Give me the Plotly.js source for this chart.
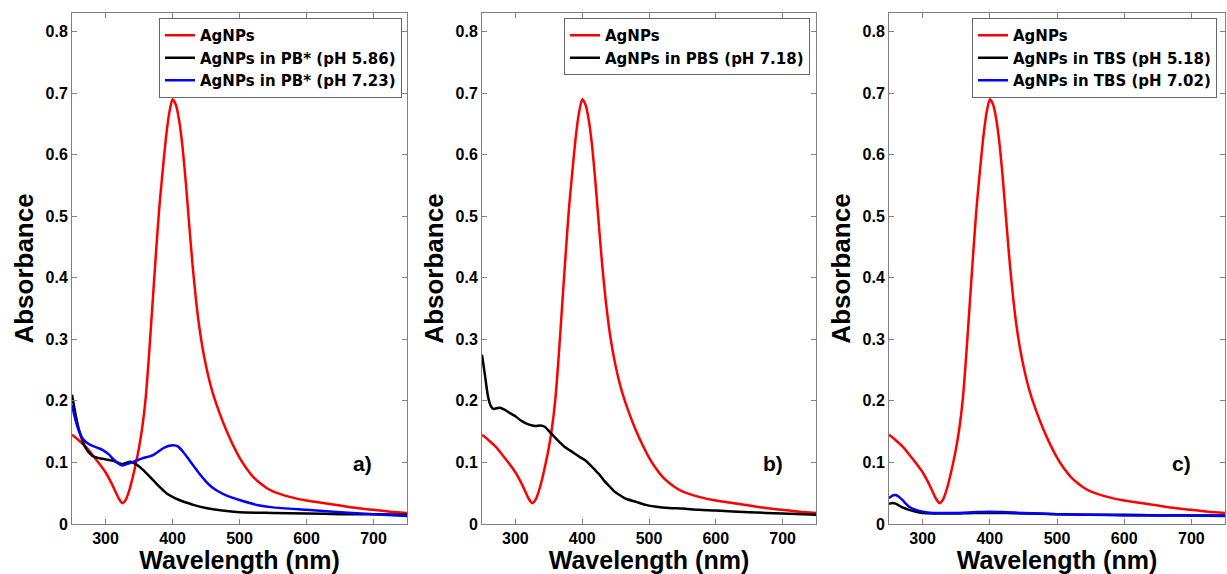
<!DOCTYPE html>
<html>
<head>
<meta charset="utf-8">
<script src="https://cdn.plot.ly/plotly-3.0.1.min.js"></script>
<style>
html,body{margin:0;padding:0;background:#fff;}
#chart{width:1227px;height:574px;}
</style>
</head>
<body>
<div id="chart"></div>
<script>
// ---- Data ----
// AgNPs (same reference spectrum in every panel)
const agWl = [250,260,270,280,290,300,310,320,325,330,335,340,345,350,355,360,365,370,375,380,385,390,395,400,405,410,415,420,425,430,435,440,445,450,455,460,470,480,490,500,510,520,530,540,550,560,575,600,625,650,675,700,725,750];
const agAbs = [0.145,0.136,0.126,0.113,0.099,0.084,0.064,0.041,0.034,0.039,0.053,0.073,0.097,0.124,0.158,0.205,0.275,0.355,0.435,0.510,0.570,0.625,0.667,0.690,0.681,0.655,0.612,0.553,0.485,0.420,0.365,0.320,0.285,0.257,0.233,0.213,0.181,0.153,0.129,0.108,0.091,0.077,0.067,0.059,0.053,0.049,0.044,0.038,0.034,0.030,0.026,0.023,0.020,0.018];

// Panel a: AgNPs in PB* (pH 5.86) and (pH 7.23)
const pb586Wl = [250,255,260,265,270,280,290,300,310,320,325,330,337,347,356,366,380,391,400,410,420,431,450,481,500,550,600,650,700,750];
const pb586Abs = [0.210,0.180,0.155,0.137,0.124,0.111,0.107,0.105,0.103,0.099,0.097,0.099,0.101,0.096,0.088,0.077,0.061,0.050,0.044,0.039,0.035,0.031,0.026,0.021,0.019,0.018,0.017,0.016,0.016,0.015];
const pb723Wl = [250,255,260,267,275,281,290,296,305,311,318,325,331,337,346,356,371,386,395,401,408,416,425,431,440,450,460,470,481,500,526,550,600,650,700,750];
const pb723Abs = [0.193,0.170,0.152,0.137,0.130,0.127,0.123,0.120,0.113,0.106,0.099,0.095,0.097,0.099,0.103,0.107,0.112,0.123,0.127,0.128,0.126,0.117,0.104,0.095,0.082,0.069,0.059,0.052,0.046,0.039,0.031,0.027,0.023,0.019,0.016,0.013];

// Panel b: AgNPs in PBS (pH 7.18)
const pbsWl = [250,254,259,263,267,272,277,285,292,300,307,315,322,330,337,344,351,358,366,373,381,388,396,404,411,418,426,433,441,448,456,465,481,495,511,530,550,575,600,650,700,750];
const pbsAbs = [0.275,0.245,0.207,0.192,0.187,0.188,0.189,0.185,0.180,0.175,0.169,0.164,0.161,0.159,0.160,0.158,0.150,0.142,0.133,0.126,0.120,0.115,0.109,0.104,0.097,0.089,0.080,0.070,0.061,0.053,0.047,0.041,0.036,0.031,0.028,0.026,0.025,0.023,0.022,0.019,0.017,0.015];

// Panel c: AgNPs in TBS (pH 5.18) and (pH 7.02)
const tbs518Wl = [250,255,260,265,270,280,290,300,315,330,350,375,400,425,450,500,550,600,650,700,750];
const tbs518Abs = [0.033,0.034,0.033,0.030,0.027,0.023,0.020,0.018,0.017,0.017,0.017,0.018,0.018,0.018,0.017,0.016,0.015,0.015,0.014,0.014,0.014];
const tbs702Wl = [250,255,260,265,270,275,280,290,300,315,330,350,375,400,425,450,500,550,600,650,700,750];
const tbs702Abs = [0.042,0.046,0.047,0.044,0.039,0.033,0.028,0.023,0.020,0.018,0.018,0.018,0.019,0.020,0.019,0.018,0.016,0.015,0.014,0.014,0.014,0.013];

const legendNames = {
  ag: "AgNPs",
  pb586: "AgNPs in PB* (pH 5.86)",
  pb723: "AgNPs in PB* (pH 7.23)",
  pbs: "AgNPs in PBS (pH 7.18)",
  tbs518: "AgNPs in TBS (pH 5.18)",
  tbs702: "AgNPs in TBS (pH 7.02)"
};
const panelLabels = ["a)", "b)", "c)"];
const xTicks = [300,400,500,600,700];
const yTicks = [0,0.1,0.2,0.3,0.4,0.5,0.6,0.7,0.8];
const yTickText = ["0","0.1","0.2","0.3","0.4","0.5","0.6","0.7","0.8"];

// ---- Styling ----
const FONT = "Liberation Sans, Arial, sans-serif";
const LEGFONT = "DejaVu Sans, Liberation Sans, sans-serif";
const RED = "#ff0000", BLACK = "#000000", BLUE = "#0000ff";
const LW = 2.5;

function tr(x, y, name, color, ax, lg) {
  return {
    x: x, y: y, name: name, type: "scatter", mode: "lines",
    line: {color: color, width: LW, shape: "spline", smoothing: 0.6},
    xaxis: "x" + ax, yaxis: "y" + ax, legend: lg, showlegend: true,
    hoverinfo: "skip"
  };
}

const data = [
  tr(agWl, agAbs, legendNames.ag, RED, "", "legend"),
  tr(pb586Wl, pb586Abs, legendNames.pb586, BLACK, "", "legend"),
  tr(pb723Wl, pb723Abs, legendNames.pb723, BLUE, "", "legend"),
  tr(agWl, agAbs, legendNames.ag, RED, "2", "legend2"),
  tr(pbsWl, pbsAbs, legendNames.pbs, BLACK, "2", "legend2"),
  tr(agWl, agAbs, legendNames.ag, RED, "3", "legend3"),
  tr(tbs518Wl, tbs518Abs, legendNames.tbs518, BLACK, "3", "legend3"),
  tr(tbs702Wl, tbs702Abs, legendNames.tbs702, BLUE, "3", "legend3")
];

const W = 1227, H = 574;
const xDomains = [[72/W, 407/W], [482/W, 816/W], [889/W, 1225/W]];
const yDomain = [1 - 524/H, 1 - 13/H];

function xax(i) {
  return {
    domain: xDomains[i], anchor: i === 0 ? "y" : "y" + (i+1),
    range: [250, 750], tickvals: xTicks, ticks: "inside", ticklen: 5,
    tickcolor: "#808080", linecolor: "#808080", linewidth: 1, mirror: "ticks",
    showline: true, showgrid: false, zeroline: false,
    tickfont: {family: FONT, size: 16, color: "#000", weight: "bold"},
    title: {text: "Wavelength (nm)", font: {family: FONT, size: 25, color: "#000", weight: "bold"}, standoff: 2}
  };
}
function yax(i) {
  return {
    domain: yDomain, anchor: i === 0 ? "x" : "x" + (i+1),
    range: [0, 0.83], tickvals: yTicks, ticktext: yTickText, ticks: "inside", ticklen: 5,
    tickcolor: "#808080", linecolor: "#808080", linewidth: 1, mirror: "ticks",
    showline: true, showgrid: false, zeroline: false,
    tickfont: {family: FONT, size: 16, color: "#000", weight: "bold"},
    title: {text: "Absorbance", font: {family: FONT, size: 26, color: "#000", weight: "bold"}, standoff: 4}
  };
}
function leg(rightPx) {
  return {
    x: rightPx / W, y: 1 - 18/H, xanchor: "right", yanchor: "top",
    bgcolor: "#ffffff", bordercolor: "#666666", borderwidth: 1,
    font: {family: LEGFONT, size: 15, color: "#000", weight: "bold"},
    tracegroupgap: 0, itemwidth: 30
  };
}

const layout = {
  width: W, height: H,
  margin: {l: 0, r: 0, t: 0, b: 0, autoexpand: false},
  paper_bgcolor: "#ffffff", plot_bgcolor: "#ffffff",
  showlegend: true,
  xaxis: xax(0), yaxis: yax(0),
  xaxis2: xax(1), yaxis2: yax(1),
  xaxis3: xax(2), yaxis3: yax(2),
  legend: leg(402), legend2: leg(810), legend3: leg(1217),
  annotations: [
    {text: panelLabels[0], x: 363/W, y: 1 - 463/H},
    {text: panelLabels[1], x: 773/W, y: 1 - 463/H},
    {text: panelLabels[2], x: 1181/W, y: 1 - 463/H}
  ].map(a => Object.assign(a, {xref: "paper", yref: "paper", showarrow: false,
    xanchor: "center", yanchor: "middle",
    font: {family: FONT, size: 21, color: "#000", weight: "bold"}}))
};

Plotly.newPlot("chart", data, layout, {displayModeBar: false, staticPlot: true});
</script>
</body>
</html>
